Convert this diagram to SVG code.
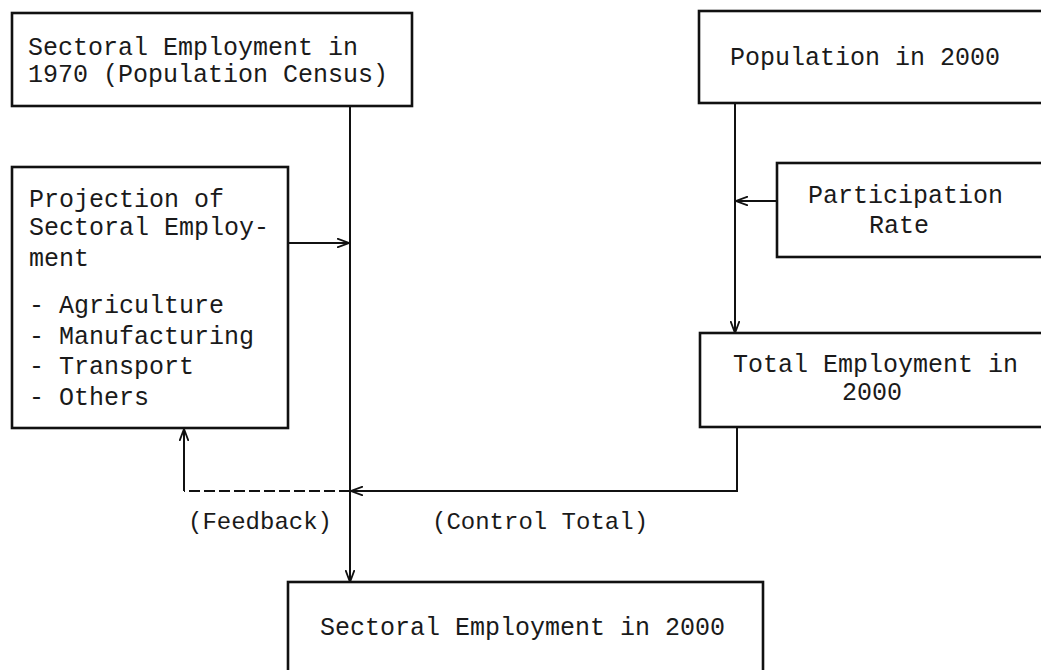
<svg xmlns="http://www.w3.org/2000/svg" width="1041" height="670" viewBox="0 0 1041 670">
<style>
.box{fill:#fff;stroke:#111;stroke-width:2.6}
.t{font-family:"Liberation Mono","DejaVu Sans Mono",monospace;font-size:25px;fill:#1a1a1a}
.l{font-size:24px}
.c{fill:none;stroke:#111;stroke-width:2}
.d{fill:none;stroke:#111;stroke-width:2;stroke-dasharray:11 4}
</style>
<defs>
<marker id="ah" viewBox="0 0 12 10" refX="12" refY="5" markerWidth="12" markerHeight="10" markerUnits="userSpaceOnUse" orient="auto">
<path d="M0,0.5 L12,5 L0,9.5" fill="none" stroke="#111" stroke-width="1.8"/>
</marker>
</defs>
<rect width="1041" height="670" fill="#fff"/>
<g id="connectors">
<path class="c" d="M350,106 V582" marker-end="url(#ah)"/>
<path class="c" d="M288,243 H349" marker-end="url(#ah)"/>
<path class="c" d="M735,103 V333" marker-end="url(#ah)"/>
<path class="c" d="M777,201 H736" marker-end="url(#ah)"/>
<path class="c" d="M737,427 V491 H351" marker-end="url(#ah)"/>
<path class="d" d="M350,491 H184"/>
<path class="c" d="M184,491 V429" marker-end="url(#ah)"/>
</g>
<g id="n1970">
<rect class="box" x="12" y="13" width="400" height="93"/>
<text class="t" x="28" y="55">Sectoral Employment in</text>
<text class="t" x="28" y="82">1970 (Population Census)</text>
</g>
<g id="npop">
<rect class="box" x="699" y="11" width="360" height="92"/>
<text class="t" x="730" y="65">Population in 2000</text>
</g>
<g id="npart">
<rect class="box" x="777" y="163" width="280" height="94"/>
<text class="t" x="808" y="203">Participation</text>
<text class="t" x="869" y="233">Rate</text>
</g>
<g id="nproj">
<rect class="box" x="12" y="167" width="276" height="261"/>
<text class="t" x="29" y="207">Projection of</text>
<text class="t" x="29" y="235">Sectoral Employ-</text>
<text class="t" x="29" y="266">ment</text>
<text class="t" x="29" y="313">- Agriculture</text>
<text class="t" x="29" y="344">- Manufacturing</text>
<text class="t" x="29" y="374">- Transport</text>
<text class="t" x="29" y="405">- Others</text>
</g>
<g id="ntotal">
<rect class="box" x="700" y="333" width="360" height="94"/>
<text class="t" x="733" y="372">Total Employment in</text>
<text class="t" x="842" y="400">2000</text>
</g>
<g id="nsect2000">
<rect class="box" x="288" y="582" width="475" height="110"/>
<text class="t" x="320" y="635">Sectoral Employment in 2000</text>
</g>
<g id="labels">
<text class="t l" x="188" y="529">(Feedback)</text>
<text class="t l" x="432" y="529">(Control Total)</text>
</g>
</svg>
